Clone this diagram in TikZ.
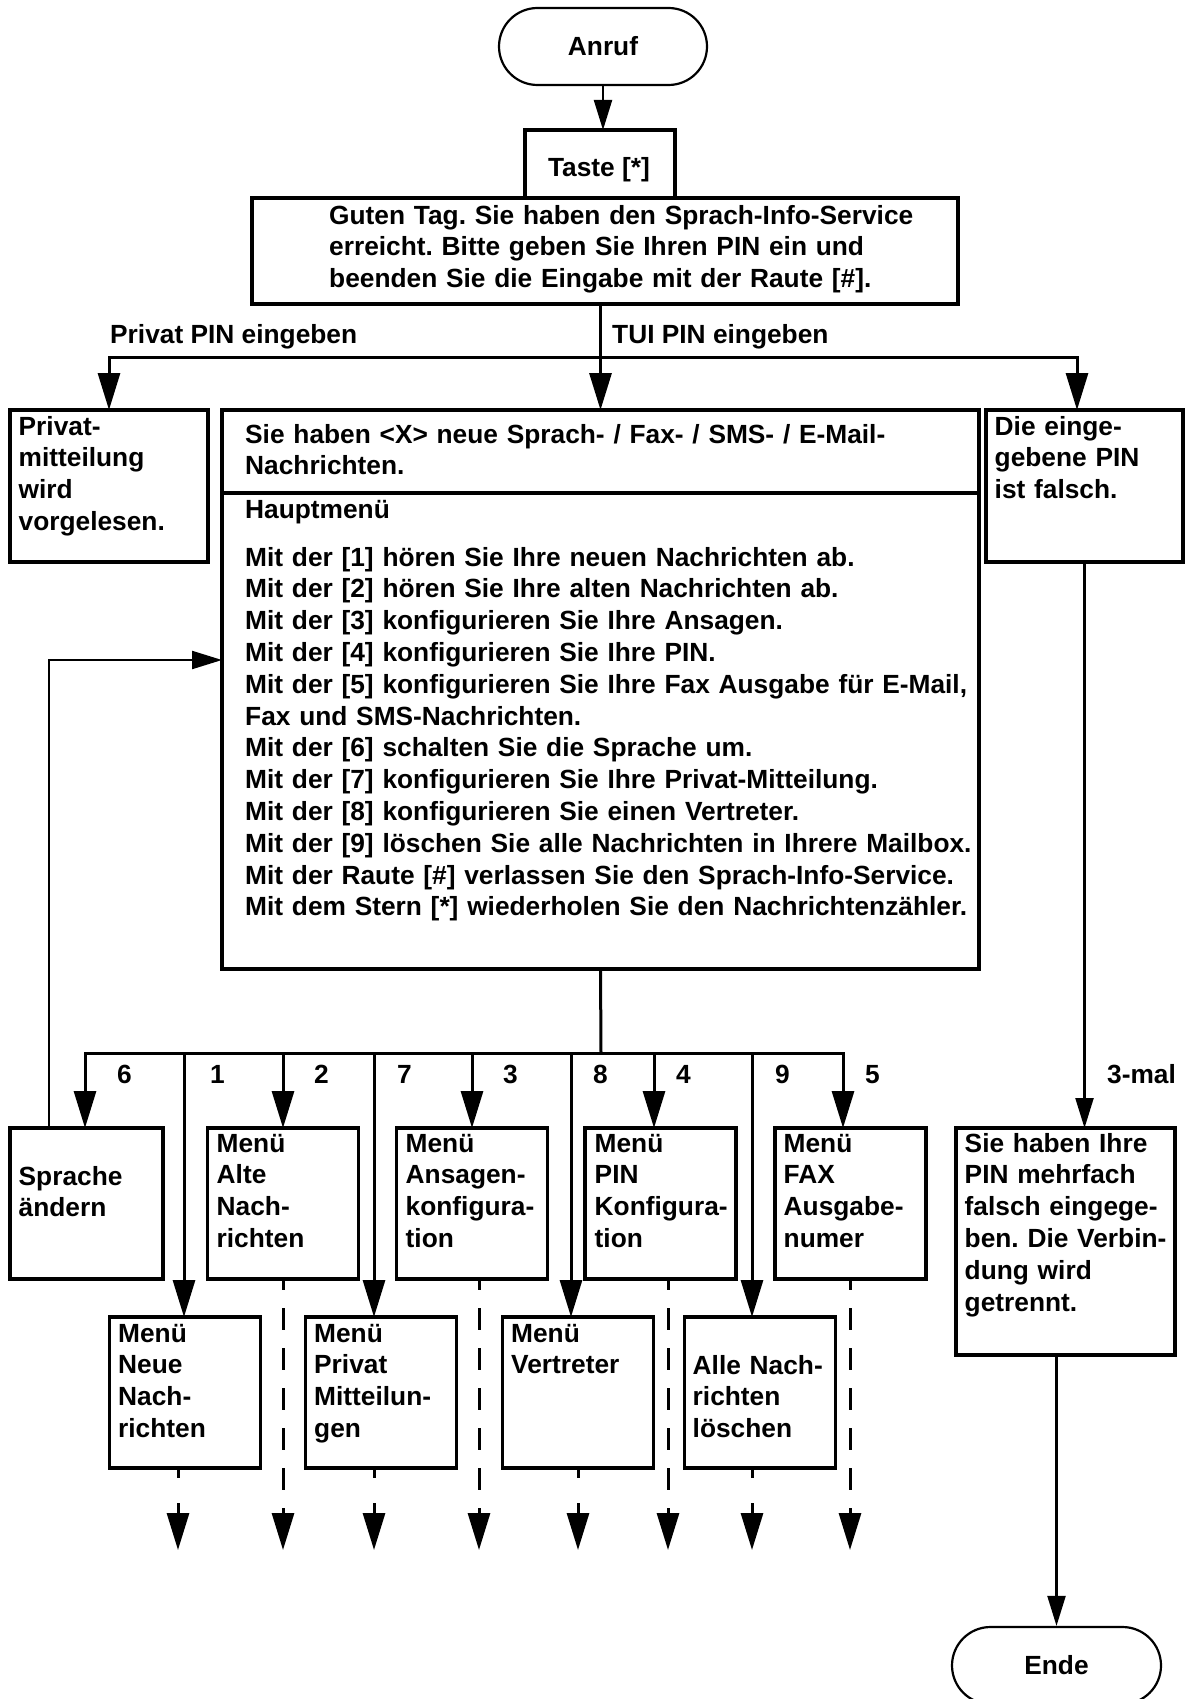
\documentclass[tikz,border=0pt]{standalone}
\usepackage{fontspec}
\setmainfont{Liberation Sans}
\usetikzlibrary{arrows.meta,shapes.misc}
\frenchspacing
\begin{document}
\begin{tikzpicture}[x=1pt,y=-1pt,
  every node/.style={font=\bfseries\fontsize{26.3}{31.8}\selectfont},
  box/.style={draw, line width=3.4pt, rectangle, inner sep=0pt, outer sep=0pt},
  rowbox/.style={box, minimum width=151pt, minimum height=151pt},
  term/.style={draw, line width=2.2pt, rounded rectangle, minimum width=208pt, minimum height=77pt, inner sep=0pt},
  txt/.style={anchor=base west, inner sep=0pt, align=left, text width=#1},
  txt/.default=300pt,
  lbl/.style={anchor=base west, inner sep=0pt},
  conn/.style={line width=3pt},
  thinc/.style={line width=2.2pt},
  arr/.style={-{Triangle[length=37pt,width=22pt]}},
  sarr/.style={-{Triangle[length=30pt,width=18pt]}},
  dashA/.style={line width=3pt, dash pattern=on 21.7pt off 18.3pt, dash phase=10.7pt},
  dashB/.style={line width=3pt, dash pattern=on 10pt off 25pt on 80pt},
]
\path[use as bounding box, fill=white] (0,0) rectangle (1185,1699);

% terminals and boxes
\node[term] (anruf) at (603,46.5) {Anruf};
\node[box, minimum width=150pt, minimum height=68pt] (taste) at (600,164) {};
\node[lbl, anchor=base] (tastet) at (599,177) {Taste [*]};
\node[box, minimum width=706pt, minimum height=106pt] (guten) at (605,251) {};
\node[txt=620pt] (gutent) at (329,224) {Guten Tag. Sie haben den Sprach-Info-Service\\erreicht. Bitte geben Sie Ihren PIN ein und\\beenden Sie die Eingabe mit der Raute [\#].};

\node[box, minimum width=198pt, minimum height=152pt] (privat) at (109,486) {};
\node[txt] (privatt) at (18.5,435) {Privat-\\mitteilung\\wird\\vorgelesen.};
\node[box, minimum width=757pt, minimum height=559pt] (main) at (600.5,689.5) {};
\node[box, minimum width=197pt, minimum height=152pt] (die) at (1084.5,486) {};
\node[txt] (diet) at (994.5,435) {Die einge-\\gebene PIN\\ist falsch.};

\draw[line width=3.4pt] ([yshift=-83pt]main.north west) -- ([yshift=-83pt]main.north east);
\node[txt=740pt] (m1) at (245,443) {Sie haben <X> neue Sprach- / Fax- / SMS- / E-Mail-\\Nachrichten.};
\node[txt=740pt] (m2) at (245,518) {Hauptmenü};
\node[txt=740pt] (m3) at (245,566) {Mit der [1] hören Sie Ihre neuen Nachrichten ab.\\Mit der [2] hören Sie Ihre alten Nachrichten ab.\\Mit der [3] konfigurieren Sie Ihre Ansagen.\\Mit der [4] konfigurieren Sie Ihre PIN.\\Mit der [5] konfigurieren Sie Ihre Fax Ausgabe für E-Mail,\\Fax und SMS-Nachrichten.\\Mit der [6] schalten Sie die Sprache um.\\Mit der [7] konfigurieren Sie Ihre Privat-Mitteilung.\\Mit der [8] konfigurieren Sie einen Vertreter.\\Mit der [9] löschen Sie alle Nachrichten in Ihrere Mailbox.\\Mit der Raute [\#] verlassen Sie den Sprach-Info-Service.\\Mit dem Stern [*] wiederholen Sie den Nachrichtenzähler.};

% row 1
\node[rowbox, minimum width=153pt] (sprache) at (86.5,1203.5) {};
\node[rowbox] (alte) at (283,1203.5) {};
\node[rowbox] (ansagen) at (472,1203.5) {};
\node[rowbox] (pinkonf) at (660.5,1203.5) {};
\node[rowbox] (fax) at (850.5,1203.5) {};
\node[txt] (sprachet) at (18.5,1185) {Sprache\\ändern};
\node[txt] (altet) at (216.5,1152) {Menü\\Alte\\Nach-\\richten};
\node[txt] (ansagent) at (405.5,1152) {Menü\\Ansagen-\\konfigura-\\tion};
\node[txt] (pinkonft) at (594.5,1152) {Menü\\PIN\\Konfigura-\\tion};
\node[txt] (faxt) at (783.5,1152) {Menü\\FAX\\Ausgabe-\\numer};

% row 2
\node[rowbox] (neue) at (185,1392.5) {};
\node[rowbox] (privm) at (381,1392.5) {};
\node[rowbox] (vertreter) at (578,1392.5) {};
\node[rowbox] (alle) at (760,1392.5) {};
\node[txt] (neuet) at (118,1342) {Menü\\Neue\\Nach-\\richten};
\node[txt] (privmt) at (314,1342) {Menü\\Privat\\Mitteilun-\\gen};
\node[txt] (vertretert) at (511,1342) {Menü\\Vertreter};
\node[txt] (allet) at (692.5,1374) {Alle Nach-\\richten\\löschen};

% right column
\node[box, minimum width=219pt, minimum height=227pt] (siehaben) at (1065.5,1241.5) {};
\node[txt] (siehabent) at (964.5,1152) {Sie haben Ihre\\PIN mehrfach\\falsch eingege-\\ben. Die Verbin-\\dung wird\\getrennt.};
\node[term, minimum width=209pt] (ende) at (1056.5,1665.5) {Ende};

% top connectors
\draw[thinc, sarr] (anruf.south) -- (anruf.south |- taste.north);
\draw[conn, arr] (main.north |- guten.south) -- (main.north);
\coordinate (bt) at (601,357);
\draw[conn, arr] (bt) -| (privat.north);
\draw[conn, arr] (bt) -| ([xshift=-7.5pt]die.north);
\node[lbl] (lpriv) at (110,343) {Privat PIN eingeben};
\node[lbl] (ltui) at (612,343) {TUI PIN eingeben};

% feedback
\draw[thinc, sarr] ([xshift=-37.5pt]sprache.north) |- ([yshift=-250pt]main.north west);

% bottom bus
\coordinate (bb) at (601,1053);
\coordinate (d6) at (85,1053);
\coordinate (d1) at (184,1053);
\coordinate (d2) at (283,1053);
\coordinate (d7) at (374,1053);
\coordinate (d3) at (472,1053);
\coordinate (d8) at (571,1053);
\coordinate (d4) at (654,1053);
\coordinate (d9) at (752,1053);
\coordinate (d5) at (843,1053);
\draw[conn] (main.south) -- (bb);
\draw[conn, arr] (bb) -| (d6 |- sprache.north);
\draw[conn, arr] (bb) -| (d5 |- fax.north);
\draw[conn, arr] (d1) -- (d1 |- neue.north);
\draw[conn, arr] (d2) -- (d2 |- alte.north);
\draw[conn, arr] (d7) -- (d7 |- privm.north);
\draw[conn, arr] (d3) -- (d3 |- ansagen.north);
\draw[conn, arr] (d8) -- (d8 |- vertreter.north);
\draw[conn, arr] (d4) -- (d4 |- pinkonf.north);
\draw[conn, arr] (d9) -- (d9 |- alle.north);
\node[lbl] (l6) at (117,1083) {6};
\node[lbl] (l1) at (210,1083) {1};
\node[lbl] (l2) at (314,1083) {2};
\node[lbl] (l7) at (397,1083) {7};
\node[lbl] (l3) at (503,1083) {3};
\node[lbl] (l8) at (593,1083) {8};
\node[lbl] (l4) at (676,1083) {4};
\node[lbl] (l9) at (775,1083) {9};
\node[lbl] (l5) at (865,1083) {5};

% dashed continuations
\coordinate (e1) at (178,1550);
\coordinate (e2) at (283,1550);
\coordinate (e7) at (374,1550);
\coordinate (e3) at (479,1550);
\coordinate (e8) at (578,1550);
\coordinate (e4) at (668,1550);
\coordinate (e9) at (752,1550);
\coordinate (e5) at (850,1550);
\draw[dashB, arr] (e1 |- neue.south) -- (e1);
\draw[dashA, arr] (e2 |- alte.south) -- (e2);
\draw[dashB, arr] (e7 |- privm.south) -- (e7);
\draw[dashA, arr] (e3 |- ansagen.south) -- (e3);
\draw[dashB, arr] (e8 |- vertreter.south) -- (e8);
\draw[dashA, arr] (e4 |- pinkonf.south) -- (e4);
\draw[dashB, arr] (e9 |- alle.south) -- (e9);
\draw[dashA, arr] (e5 |- fax.south) -- (e5);

% right column connectors
\draw[thinc, sarr] (die.south) -- (die.south |- siehaben.north);
\node[lbl] (l3mal) at (1107,1083) {3-mal};
\draw[thinc, sarr] (ende.north |- siehaben.south) -- (ende.north);
\end{tikzpicture}
\end{document}
